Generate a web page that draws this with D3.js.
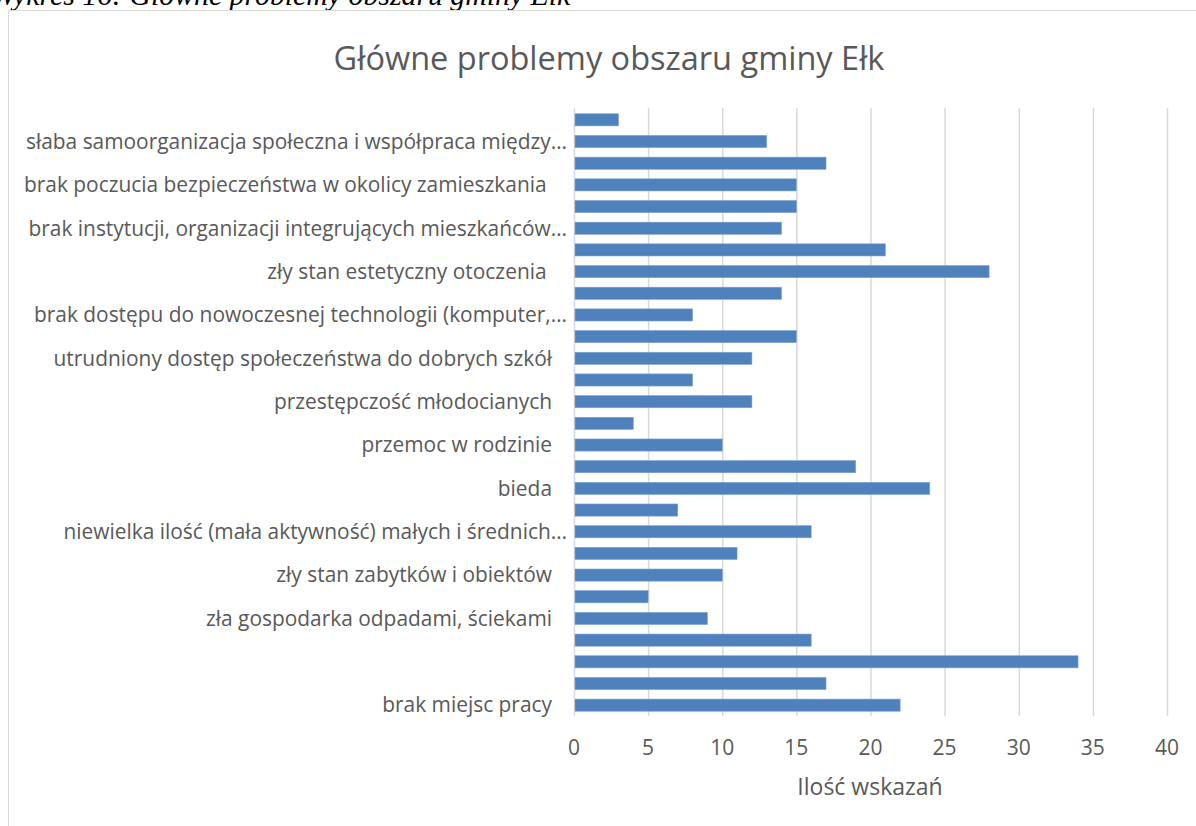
<html>
<head>
<script src="https://cdn.jsdelivr.net/npm/d3@7"></script>
<style>
  body { margin: 0; background: white; }
  .lbl { font-family: "Open Sans", sans-serif; fill: #595959; }
</style>
</head>
<body>
<svg id="chart" width="1196" height="826"></svg>
<script>
  // categories from top to bottom; "" where the original shows no label
  var categories = [
    "", "słaba samoorganizacja społeczna i współpraca między…",
    "", "brak poczucia bezpieczeństwa w okolicy zamieszkania ",
    "", "brak instytucji, organizacji integrujących mieszkańców…",
    "", "zły stan estetyczny otoczenia ",
    "", "brak dostępu do nowoczesnej technologii (komputer,…",
    "", "utrudniony dostęp społeczeństwa do dobrych szkół",
    "", "przestępczość młodocianych",
    "", "przemoc w rodzinie",
    "", "bieda",
    "", "niewielka ilość (mała aktywność) małych i średnich…",
    "", "zły stan zabytków i obiektów",
    "", "zła gospodarka odpadami, ściekami",
    "", "",
    "", "brak miejsc pracy"
  ];
  var values = [3, 13, 17, 15, 15, 14, 21, 28, 14, 8, 15, 12, 8, 12,
                4, 10, 19, 24, 7, 16, 11, 10, 5, 9, 16, 34, 17, 22];
  var xTicks = [0, 5, 10, 15, 20, 25, 30, 35, 40];
  var title = "Główne problemy obszaru gminy Ełk";
  var caption = "Wykres 16: Główne problemy obszaru gminy Ełk";
  var xTitle = "Ilość wskazań";

  var svg = d3.select("#chart");

  // caption above the frame (cut off by the page top, as in the original)
  svg.append("text")
    .attr("x", -9).attr("y", 5)
    .style("font", "italic 29.8px 'Liberation Serif', serif")
    .style("fill", "#000")
    .text(caption);

  // chart frame
  svg.append("rect")
    .attr("x", 8.5).attr("y", 10.5)
    .attr("width", 1220).attr("height", 840)
    .attr("fill", "none").attr("stroke", "#d9d9d9");

  var xs = d3.scaleLinear().domain([0, 40]).range([574, 1167]);
  var ys = d3.scaleBand().domain(d3.range(values.length)).range([109, 716]).paddingInner(0.44).paddingOuter(0.22);

  // gridlines
  svg.append("g").selectAll("line").data(xTicks).enter()
    .append("line")
    .attr("x1", d => xs(d) + 0.5).attr("x2", d => xs(d) + 0.5)
    .attr("y1", 108).attr("y2", 716)
    .attr("stroke", "#d9d9d9").attr("stroke-width", 1.5);

  // bars
  svg.append("g").selectAll("rect").data(values).enter()
    .append("rect")
    .attr("x", xs(0) + 1)
    .attr("y", (d, i) => ys(i))
    .attr("width", d => xs(d) - xs(0) - 1)
    .attr("height", ys.bandwidth())
    .attr("fill", "#4f81bd")
    .attr("stroke", "#7ea3d2").attr("stroke-width", 0.6);

  // category labels
  svg.append("g").selectAll("text").data(categories).enter()
    .append("text")
    .attr("class", "lbl")
    .attr("x", d => d.endsWith("…") ? 567 : 552)
    .attr("y", (d, i) => ys(i) + ys.bandwidth() / 2)
    .attr("dy", "0.35em")
    .attr("text-anchor", "end")
    .style("font-size", "20.9px")
    .style("white-space", "pre")
    .text(d => d);

  // x tick labels
  svg.append("g").selectAll("text").data(xTicks).enter()
    .append("text")
    .attr("class", "lbl")
    .attr("x", d => xs(d))
    .attr("y", 748)
    .attr("dy", "0.35em")
    .attr("text-anchor", "middle")
    .style("font-size", "21px")
    .text(d => d);

  // axis title
  svg.append("text")
    .attr("class", "lbl")
    .attr("x", 870).attr("y", 787)
    .attr("dy", "0.35em")
    .attr("text-anchor", "middle")
    .style("font-size", "23px")
    .text(xTitle);

  // chart title
  svg.append("text")
    .attr("class", "lbl")
    .attr("x", 609).attr("y", 59)
    .attr("dy", "0.35em")
    .attr("text-anchor", "middle")
    .style("font-size", "32.5px")
    .text(title);
</script>
</body>
</html>
